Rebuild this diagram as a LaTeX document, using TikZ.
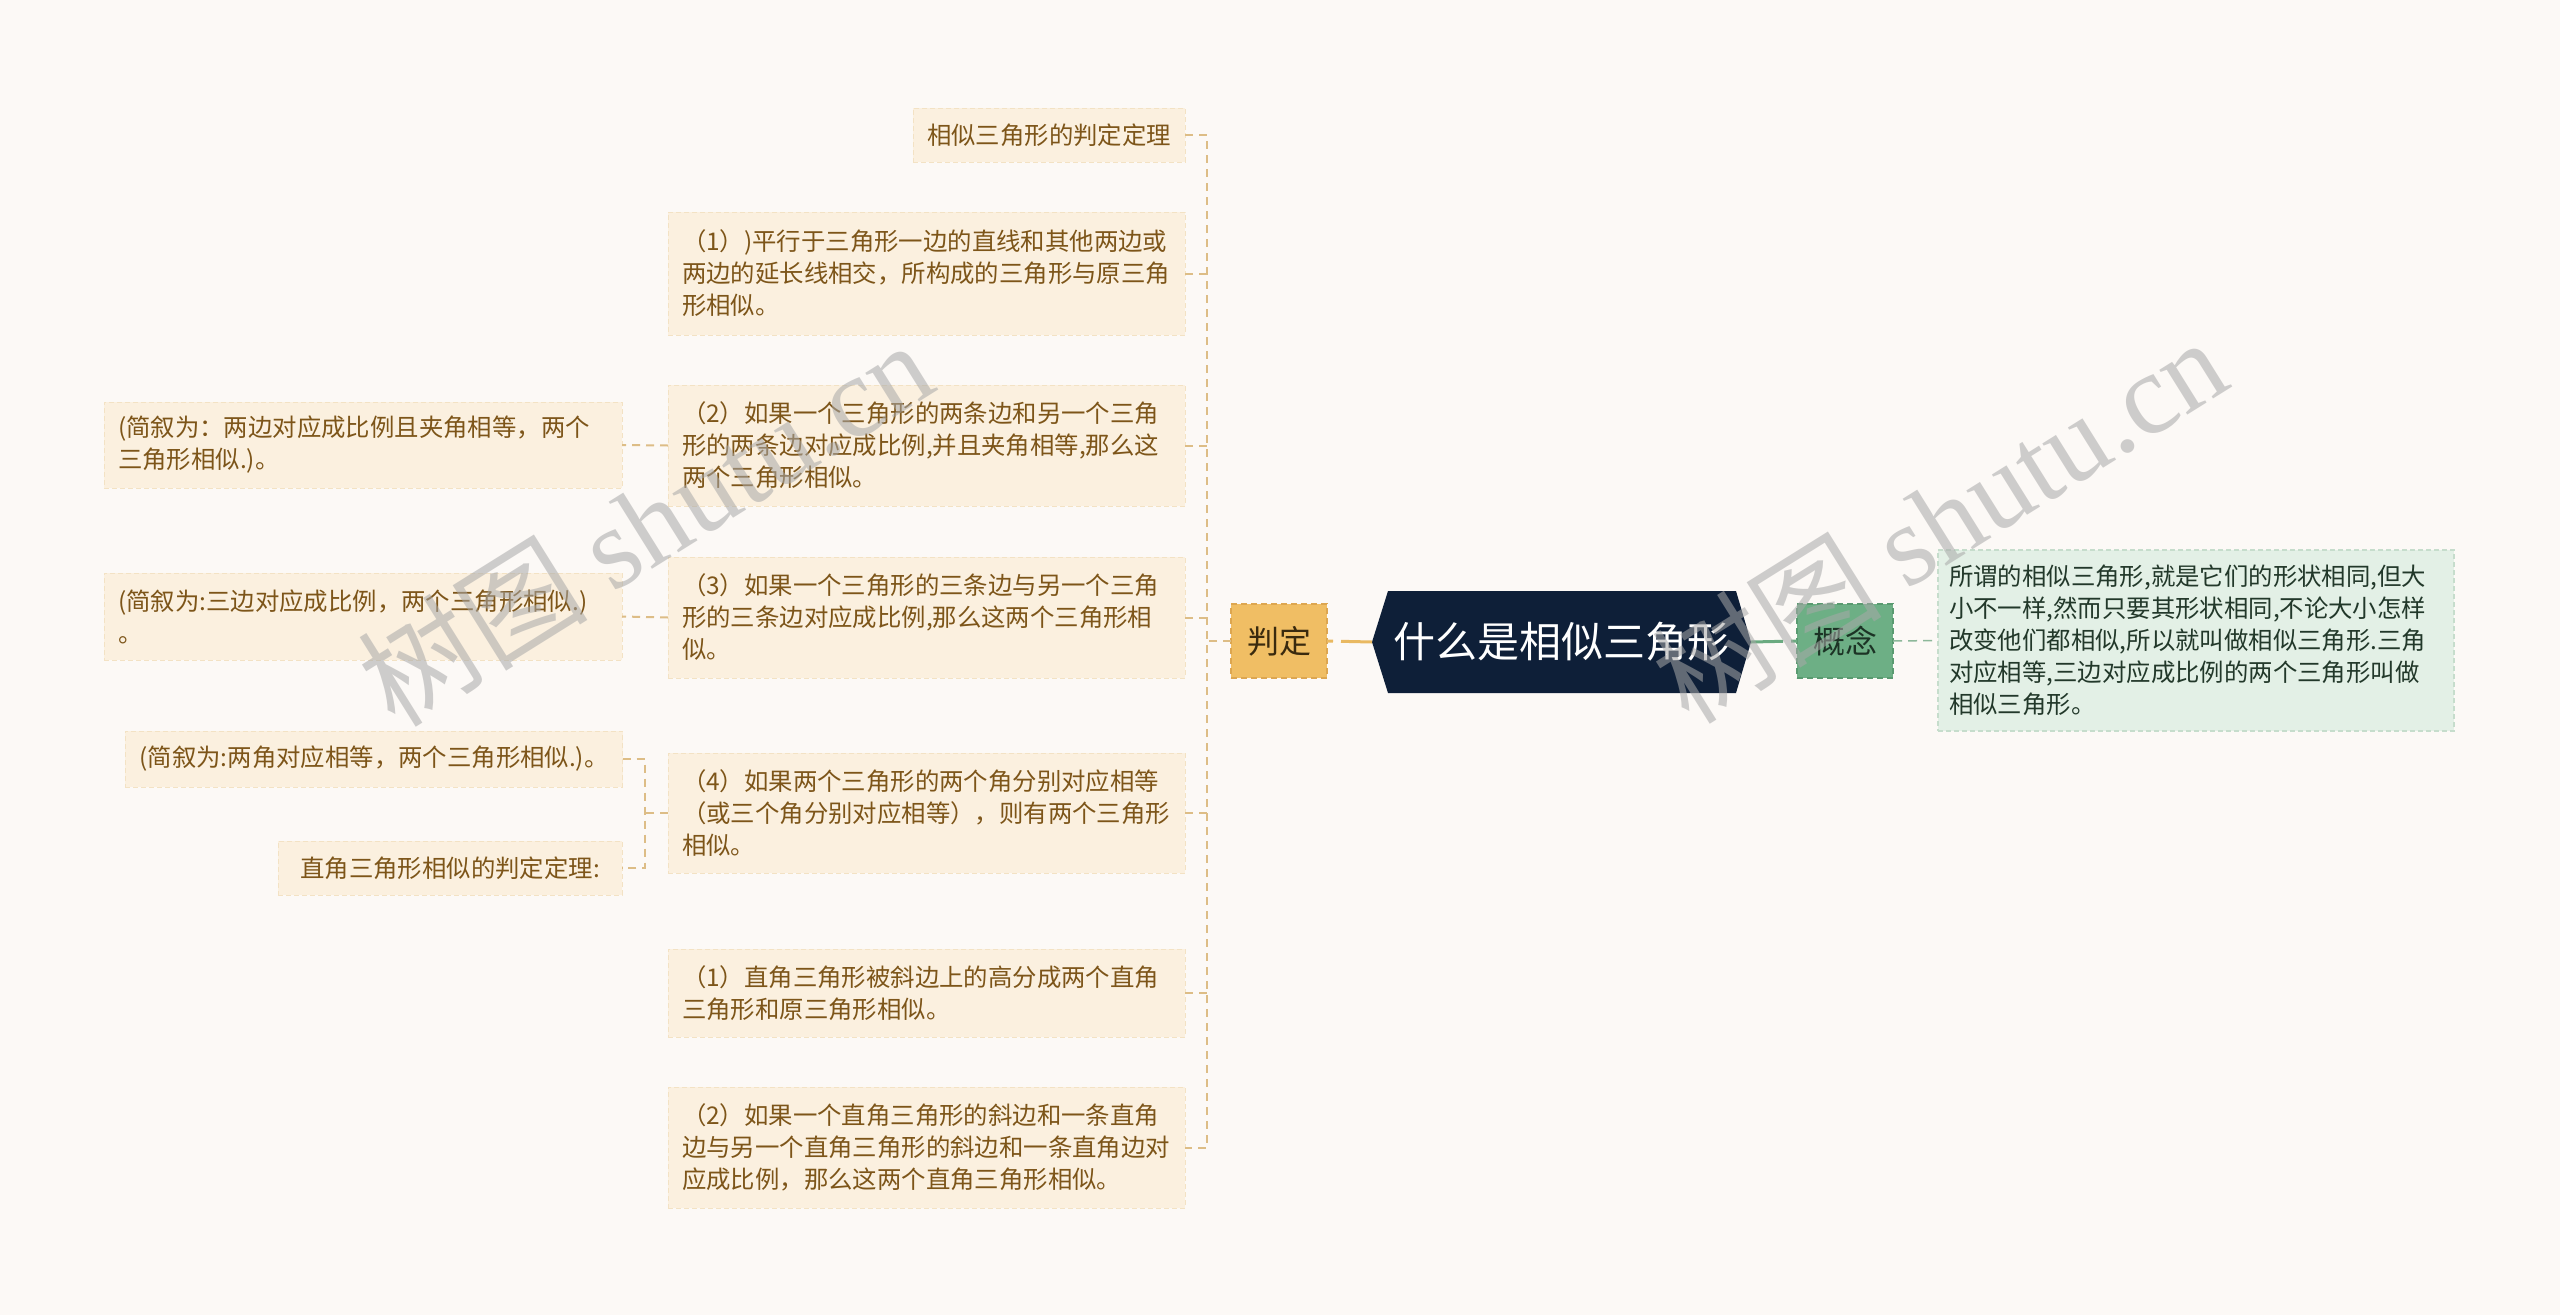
\documentclass[tikz,border=0pt]{standalone}
\usepackage{fontspec}
\setmainfont{Noto Sans CJK SC}
\newfontfamily\wmfont{Liberation Serif}
\usetikzlibrary{backgrounds,calc}
\definecolor{bgc}{HTML}{FCF9F6}
\definecolor{leafbg}{HTML}{FBF0DF}
\definecolor{leafedge}{HTML}{F3E2C4}
\definecolor{leaftxt}{HTML}{7D5519}
\definecolor{conncol}{HTML}{DDBD86}
\definecolor{rootbg}{HTML}{0E1F38}
\definecolor{pdbg}{HTML}{F0BE64}
\definecolor{pdedge}{HTML}{DDA650}
\definecolor{pdtxt}{HTML}{3A2A0E}
\definecolor{gnbg}{HTML}{6DAF85}
\definecolor{gnedge}{HTML}{5A9A70}
\definecolor{gntxt}{HTML}{1C3325}
\definecolor{ccbg}{HTML}{E3F0E6}
\definecolor{ccedge}{HTML}{C6DDCC}
\definecolor{cctxt}{HTML}{22382A}
\definecolor{orline}{HTML}{E9B961}
\definecolor{grline}{HTML}{6AAA80}
\definecolor{ccline}{HTML}{8DB89A}
\definecolor{wmcol}{HTML}{A8A8A8}
\tikzset{
  leaf/.style={fill=leafbg, draw=leafedge, dash pattern=on 5pt off 3pt, line width=1pt,
    text=leaftxt, font=\fontsize{24.4}{32}\selectfont, inner xsep=14pt, inner ysep=0pt,
    outer sep=0pt, align=left},
  concept/.style={fill=ccbg, draw=ccedge, dash pattern=on 5pt off 3pt, line width=1.2pt,
    text=cctxt, font=\fontsize{24.4}{32}\selectfont, inner xsep=11pt, inner ysep=0pt,
    outer sep=0pt, align=left},
  branch/.style={dash pattern=on 6pt off 4pt, line width=1.5pt, minimum width=96pt,
    minimum height=74pt, inner sep=0pt, outer sep=0pt, font=\fontsize{32}{36}\selectfont},
  rootnode/.style={minimum width=379pt, minimum height=102pt, inner sep=0pt, outer sep=0pt,
    text=white, font=\fontsize{42}{46}\selectfont},
  conn/.style={draw=conncol, line width=2pt, dash pattern=on 8pt off 6pt},
  wm/.style={text=wmcol, text opacity=0.55, rotate=32, font=\fontsize{115}{120}\selectfont}
}
\begin{document}
\begin{tikzpicture}[x=1pt,y=-1pt]
\useasboundingbox (0,0) rectangle (2560,1315);
\begin{scope}[on background layer]
  \fill[bgc] (0,0) rectangle (2560,1315);
\end{scope}

% root
\node[rootnode] (root) at (1561.5,642) {什么是相似三角形};
\begin{scope}[on background layer]
  \fill[rootbg] ([xshift=16pt]root.north west) -- ([xshift=-15pt]root.north east) -- (root.east)
    -- ([xshift=-15pt]root.south east) -- ([xshift=16pt]root.south west) -- (root.west) -- cycle;
\end{scope}

% first level
\node[branch, fill=pdbg, draw=pdedge, text=pdtxt] (pd) at (1279,641) {判定};
\node[branch, fill=gnbg, draw=gnedge, text=gntxt] (gn) at (1845,641) {概念};

% concept text
\node[concept, text width=494pt, minimum height=181pt] (cc) at (2196,640.5)
  {所谓的相似三角形,就是它们的形状相同,但大\\小不一样,然而只要其形状相同,不论大小怎样\\改变他们都相似,所以就叫做相似三角形.三角\\对应相等,三边对应成比例的两个三角形叫做\\相似三角形。};

% middle column
\node[leaf, minimum width=272pt, minimum height=54pt] (b0) at (1049,135) {相似三角形的判定定理};
\node[leaf, text width=489pt, minimum height=123pt] (b1) at (926.5,273.5)
  {（1）)平行于三角形一边的直线和其他两边或\\两边的延长线相交，所构成的三角形与原三角\\形相似。};
\node[leaf, text width=489pt, minimum height=121pt] (b2) at (926.5,445.5)
  {（2）如果一个三角形的两条边和另一个三角\\形的两条边对应成比例,并且夹角相等,那么这\\两个三角形相似。};
\node[leaf, text width=489pt, minimum height=121pt] (b3) at (926.5,617.5)
  {（3）如果一个三角形的三条边与另一个三角\\形的三条边对应成比例,那么这两个三角形相\\似。};
\node[leaf, text width=489pt, minimum height=120pt] (b4) at (926.5,813)
  {（4）如果两个三角形的两个角分别对应相等\\（或三个角分别对应相等），则有两个三角形\\相似。};
\node[leaf, text width=489pt, minimum height=88pt] (b5) at (926.5,993)
  {（1）直角三角形被斜边上的高分成两个直角\\三角形和原三角形相似。};
\node[leaf, text width=489pt, minimum height=121pt] (b6) at (926.5,1147.5)
  {（2）如果一个直角三角形的斜边和一条直角\\边与另一个直角三角形的斜边和一条直角边对\\应成比例，那么这两个直角三角形相似。};

% left column
\node[leaf, text width=490pt, minimum height=86pt] (a2) at (363,445)
  {(简叙为：两边对应成比例且夹角相等，两个\\三角形相似.)。};
\node[leaf, text width=490pt, minimum height=87pt] (a3) at (363,616.5)
  {(简叙为:三边对应成比例，两个三角形相似.)\\。};
\node[leaf, minimum width=496pt, minimum height=56pt] (a4) at (374,759)
  {(简叙为:两角对应相等，两个三角形相似.)。};
\node[leaf, minimum width=344pt, minimum height=54pt] (a5) at (450,868)
  {直角三角形相似的判定定理:};

% connectors
\coordinate (tr) at (1207,0);
\coordinate (tl) at (645,0);
\draw[conn] (b0.east) -| (tr |- b6.east) -- (b6.east);
\foreach \n in {b1,b2,b3,b4,b5} { \draw[conn] (\n.east) -- (tr |- \n.east); }
\draw[conn] (pd.west) -- (tr |- pd.west);
\draw[conn] (b2.west) -- (a2.east);
\draw[conn] (b3.west) -- (a3.east);
\draw[conn] (a4.east) -| (tl |- a5.east) -- (a5.east);
\draw[conn] (b4.west) -- (tl |- b4.west);

\draw[draw=orline, line width=3pt, dash pattern=on 6pt off 8pt on 60pt off 0pt] (pd.east) -- (root.west);
\draw[draw=grline, line width=3pt, dash pattern=on 6pt off 8pt on 60pt off 0pt] (gn.west) -- (root.east);
\draw[draw=ccline, line width=1.5pt, dash pattern=on 9pt off 6pt] (gn.east) -- (cc.west);

% watermarks
\node[wm] (wm1) at (645,522) {树图 {\wmfont shutu.cn}};
\node[wm] (wm2) at (1939,519) {树图 {\wmfont shutu.cn}};
\end{tikzpicture}
\end{document}
